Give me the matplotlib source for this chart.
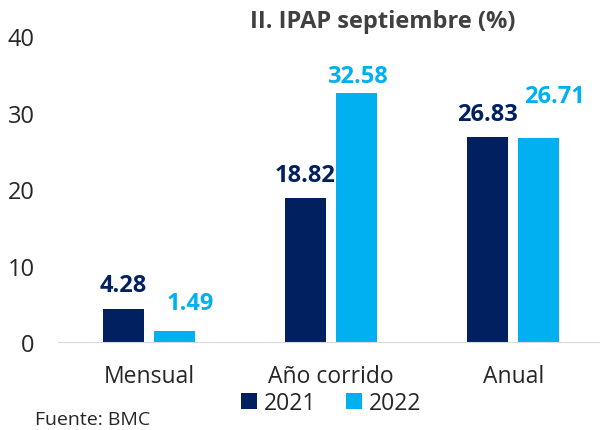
import matplotlib.pyplot as plt
import numpy as np

plt.rcParams['font.family'] = ['Open Sans', 'DejaVu Sans']

categorias = ["Mensual", "Año corrido", "Anual"]
v2021 = [4.28, 18.82, 26.83]
v2022 = [1.49, 32.58, 26.71]

c2021 = "#002060"
c2022 = "#00B0F0"

# desplazamiento de las etiquetas (pixeles) respecto a la parte superior de la barra
off2021 = [(0, 18), (0, 17), (0, 17)]
off2022 = [(15, 22), (0, 11), (16, 36)]

fig = plt.figure(figsize=(6, 4.31), dpi=100)
ax = fig.add_axes([0.097, 0.204, 0.91, 0.71])

x = np.arange(len(categorias))
w = 0.225
off = 0.1415
b1 = ax.bar(x - off, v2021, w, color=c2021, label="2021")
b2 = ax.bar(x + off, v2022, w, color=c2022, label="2022")

for bars, vals, offs, col in [(b1, v2021, off2021, c2021), (b2, v2022, off2022, c2022)]:
    for r, v, (dx, dy) in zip(bars, vals, offs):
        ax.annotate(f"{v:.2f}", (r.get_x() + r.get_width() / 2, v),
                    xytext=(dx, dy), textcoords="offset pixels",
                    ha="center", va="baseline", fontsize=17,
                    fontweight="bold", color=col)

ax.set_xlim(-0.5, 2.5)
ax.set_ylim(0, 40)
ax.set_yticks([0, 10, 20, 30, 40])
ax.set_xticks(x)
ax.set_xticklabels(categorias, fontsize=16.5)
ax.tick_params(axis="both", length=0, colors="#262626")
ax.tick_params(axis="y", labelsize=17, pad=17)
ax.tick_params(axis="x", pad=16)
for s in ["top", "right", "left"]:
    ax.spines[s].set_visible(False)
ax.spines["bottom"].set_color("#d9d9d9")

fig.text(0.638, 0.949, "II. IPAP septiembre (%)", ha="center", va="center",
         fontsize=17, fontweight="bold", color="#404040")

fig.legend(handles=[b1, b2], loc="center", bbox_to_anchor=(0.552, 0.062),
           ncol=2, frameon=False, fontsize=16.5, handlelength=0.7,
           handleheight=0.7, handletextpad=0.3, columnspacing=1.3,
           labelcolor="#262626")
fig.text(0.058, 0.025, "Fuente: BMC", ha="left", va="center", fontsize=14,
         color="#262626")

fig.savefig("out.png", dpi=100)
